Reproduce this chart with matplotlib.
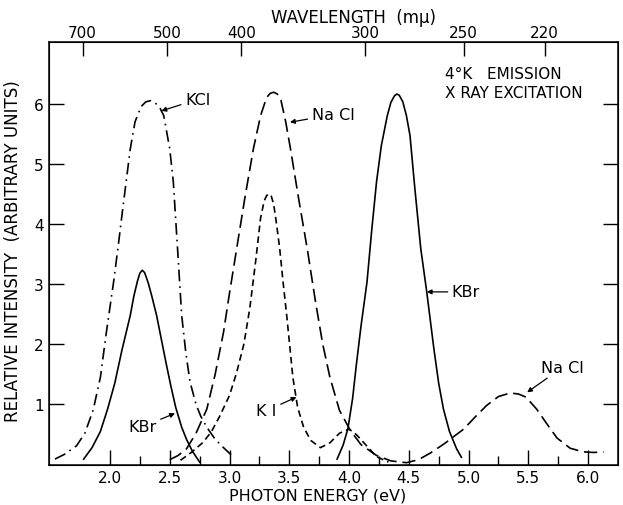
import numpy as np
import matplotlib
matplotlib.use("Agg")
from matplotlib import pyplot as plt

# emission bands: photon energy (eV) / relative intensity
kcl_e = [1.54, 1.62, 1.72, 1.79, 1.86, 1.92, 1.97, 2.03, 2.07, 2.10, 2.17, 2.21, 2.26, 2.30, 2.34,
         2.38, 2.42, 2.45, 2.50, 2.53, 2.565, 2.60, 2.635, 2.67, 2.72, 2.76, 2.81, 2.88, 2.95, 3.03]
kcl_i = [0.09, 0.17, 0.31, 0.52, 0.91, 1.45, 2.20, 3.03, 3.65, 4.14, 5.25, 5.70, 5.95, 6.03, 6.05,
         6.01, 5.92, 5.80, 5.25, 4.70, 3.60, 2.48, 1.85, 1.37, 1.00, 0.80, 0.62, 0.42, 0.28, 0.13]

kbr1_e = [1.78, 1.85, 1.92, 1.98, 2.04, 2.10, 2.17, 2.20, 2.23, 2.25, 2.27, 2.29, 2.32, 2.35,
          2.39, 2.43, 2.47, 2.51, 2.55, 2.60, 2.64, 2.69, 2.75]
kbr1_i = [0.09, 0.28, 0.55, 0.92, 1.35, 1.90, 2.48, 2.80, 3.05, 3.18, 3.23, 3.19, 3.02, 2.80,
          2.48, 2.08, 1.68, 1.30, 0.95, 0.62, 0.42, 0.22, 0.04]

kbr2_e = [3.90, 3.95, 3.99, 4.03, 4.06, 4.10, 4.15, 4.19, 4.23, 4.27, 4.32, 4.35, 4.38, 4.40,
          4.42, 4.45, 4.48, 4.51, 4.55, 4.60, 4.65, 4.71, 4.75, 4.79, 4.84, 4.90, 4.94]
kbr2_i = [0.09, 0.32, 0.59, 1.10, 1.64, 2.30, 3.03, 3.90, 4.70, 5.30, 5.80, 6.02, 6.13, 6.16,
          6.14, 6.03, 5.80, 5.47, 4.60, 3.59, 2.87, 1.92, 1.35, 0.92, 0.55, 0.26, 0.12]

nacl_e = [2.50, 2.57, 2.64, 2.72, 2.81, 2.88, 2.95, 3.00, 3.06, 3.13, 3.20, 3.26, 3.31, 3.34,
          3.37, 3.40, 3.43, 3.47, 3.51, 3.58, 3.65, 3.72, 3.78, 3.84, 3.92, 4.01, 4.10, 4.23,
          4.35, 4.48, 4.58, 4.68, 4.80, 4.96, 5.05, 5.15, 5.25, 5.35, 5.42, 5.48, 5.57, 5.65,
          5.74, 5.85, 5.96, 6.05, 6.13]
nacl_i = [0.08, 0.15, 0.26, 0.52, 0.92, 1.50, 2.20, 2.85, 3.59, 4.45, 5.25, 5.80, 6.10, 6.17,
          6.19, 6.16, 6.06, 5.70, 5.25, 4.40, 3.59, 2.70, 2.00, 1.45, 0.90, 0.57, 0.33, 0.15,
          0.06, 0.03, 0.08, 0.19, 0.35, 0.59, 0.78, 0.98, 1.13, 1.19, 1.17, 1.12, 0.92, 0.69,
          0.44, 0.27, 0.21, 0.20, 0.21]

ki_e = [2.59, 2.68, 2.78, 2.85, 2.92, 3.00, 3.06, 3.12, 3.17, 3.22, 3.26, 3.29, 3.31, 3.33,
        3.35, 3.37, 3.39, 3.42, 3.45, 3.48, 3.53, 3.57, 3.62, 3.68, 3.76, 3.84, 3.92, 4.00,
        4.06, 4.12, 4.23, 4.33]
ki_i = [0.07, 0.20, 0.37, 0.55, 0.81, 1.15, 1.53, 2.00, 2.60, 3.40, 4.10, 4.38, 4.47, 4.50,
        4.46, 4.32, 4.05, 3.59, 3.00, 2.45, 1.45, 0.95, 0.62, 0.40, 0.28, 0.36, 0.52, 0.59,
        0.50, 0.37, 0.13, 0.04]

x_major = [2.0, 2.5, 3.0, 3.5, 4.0, 4.5, 5.0, 5.5, 6.0]
x_minor = [2.25, 2.75, 3.25, 3.75, 4.25, 4.75, 5.25, 5.75]
y_major = [1, 2, 3, 4, 5, 6]
lam_ticks = [700, 500, 400, 300, 250, 220]

fig = plt.figure(figsize=(6.23, 5.06), dpi=100)
ax = fig.add_axes([49/623, 1 - 465.5/506, (618 - 49)/623, (465.5 - 43.3)/506])

lw = 1.2
ax.plot(kcl_e, kcl_i, color="k", lw=lw, linestyle=(0, (7, 3, 1, 3)))
ax.plot(kbr1_e, kbr1_i, color="k", lw=lw)
ax.plot(kbr2_e, kbr2_i, color="k", lw=lw)
ax.plot(nacl_e, nacl_i, color="k", lw=lw, linestyle=(0, (8, 3.5)))
ax.plot(ki_e, ki_i, color="k", lw=lw, linestyle=(0, (4, 2.5)))

ax.set_xlim(1.49, 6.25)
ax.set_ylim(0, 7.02)
ax.set_xticks(x_major)
ax.set_xticklabels(["%.1f" % v for v in x_major])
ax.set_xticks(x_minor, minor=True)
ax.set_yticks(y_major)
ax.tick_params(which="major", direction="in", length=11, width=1.0, labelsize=11,
               right=True, pad=4)
ax.tick_params(which="minor", direction="in", length=6.5, width=1.0)
for s in ax.spines.values():
    s.set_linewidth(1.1)

ax.set_xlabel("PHOTON ENERGY (eV)", fontsize=11.5, va="center")
ax.xaxis.set_label_coords(0.472, -0.073)
ax.set_ylabel("RELATIVE INTENSITY  (ARBITRARY UNITS)", fontsize=12, va="center")
ax.yaxis.set_label_coords(-0.0633, 0.507)

# wavelength scale on top, E = hc / lambda
ax2 = ax.twiny()
ax2.set_xlim(ax.get_xlim())
ax2.set_xticks([1239.8 / w for w in lam_ticks])
ax2.set_xticklabels([str(w) for w in lam_ticks])
ax2.tick_params(direction="in", length=10, width=1.0, labelsize=11, pad=2)
ax2.set_xlabel("WAVELENGTH  (m\u03bc)", fontsize=12, va="center")
ax2.xaxis.set_label_coords(0.535, 1.060)

arrow = dict(arrowstyle="-|>", color="k", lw=0.9, mutation_scale=7, shrinkA=1, shrinkB=0)
fs = 11.5
ax.annotate("KCl", xy=(2.43, 5.88), xytext=(2.628, 6.07), ha="left", va="center",
            fontsize=fs, arrowprops=arrow)
ax.annotate("Na Cl", xy=(3.506, 5.69), xytext=(3.688, 5.82), ha="left", va="center",
            fontsize=fs, arrowprops=arrow)
ax.annotate("KBr", xy=(2.544, 0.85), xytext=(2.39, 0.63), ha="right", va="center",
            fontsize=fs, arrowprops=arrow)
ax.annotate("K I", xy=(3.56, 1.12), xytext=(3.395, 0.895), ha="right", va="center",
            fontsize=fs, arrowprops=arrow)
ax.annotate("KBr", xy=(4.65, 2.87), xytext=(4.86, 2.87), ha="left", va="center",
            fontsize=fs, arrowprops=arrow)
ax.annotate("Na Cl", xy=(5.49, 1.20), xytext=(5.61, 1.62), ha="left", va="center",
            fontsize=fs, arrowprops=arrow)

ax.text(4.80, 6.50, "4\u00b0K   EMISSION", fontsize=11, ha="left", va="center")
ax.text(4.80, 6.19, "X RAY EXCITATION", fontsize=11, ha="left", va="center")

fig.savefig("out.png", dpi=100)
